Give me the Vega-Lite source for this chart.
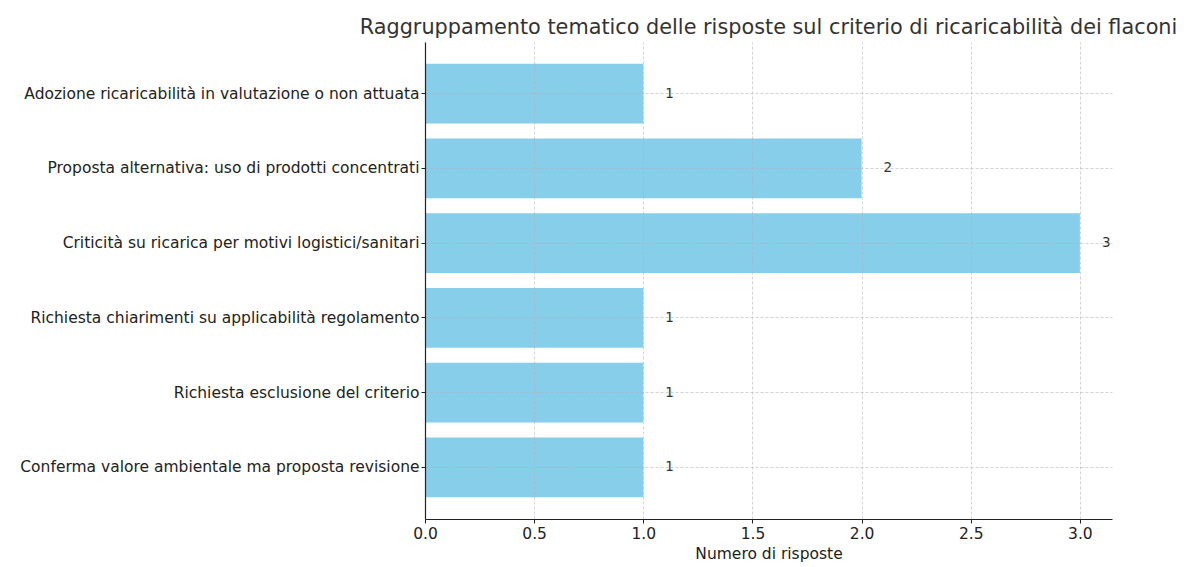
{
  "$schema": "https://vega.github.io/schema/vega-lite/v6.json",
  "autosize": "none",
  "width": 687,
  "height": 477,
  "padding": {"left": 425, "top": 42, "right": 72, "bottom": 48},
  "background": "white",
  "config": {
    "font": "DejaVu Sans",
    "view": {"stroke": null}
  },
  "title": {
    "text": "Raggruppamento tematico delle risposte sul criterio di ricaricabilità dei flaconi",
    "anchor": "middle",
    "frame": "group",
    "fontSize": 20.8,
    "fontWeight": "normal",
    "color": "#333333",
    "font": "DejaVu Sans",
    "offset": 3
  },
  "data": {
    "values": [
      {"categoria": "Adozione ricaricabilità in valutazione o non attuata", "risposte": 1},
      {"categoria": "Proposta alternativa: uso di prodotti concentrati", "risposte": 2},
      {"categoria": "Criticità su ricarica per motivi logistici/sanitari", "risposte": 3},
      {"categoria": "Richiesta chiarimenti su applicabilità regolamento", "risposte": 1},
      {"categoria": "Richiesta esclusione del criterio", "risposte": 1},
      {"categoria": "Conferma valore ambientale ma proposta revisione", "risposte": 1}
    ]
  },
  "encoding": {
    "y": {
      "field": "categoria",
      "type": "nominal",
      "sort": null,
      "scale": {"paddingInner": 0.2, "paddingOuter": 0.29},
      "axis": {
        "title": null,
        "labelFontSize": 15.5,
        "labelColor": "#222222",
        "labelPadding": 2,
        "labelLimit": 500,
        "tickColor": "#222222",
        "tickSize": 4,
        "domainColor": "#222222",
        "domainWidth": 1.2,
        "grid": true,
        "gridColor": "#b0b0b0",
        "gridOpacity": 0.7,
        "gridDash": [3, 2],
        "gridWidth": 0.8,
        "zindex": 1
      }
    },
    "x": {
      "field": "risposte",
      "type": "quantitative",
      "scale": {"domain": [0, 3.147], "nice": false, "zero": true},
      "axis": {
        "title": "Numero di risposte",
        "titleFontSize": 15.5,
        "titleFontWeight": "normal",
        "titleColor": "#222222",
        "titlePadding": 5,
        "values": [0, 0.5, 1, 1.5, 2, 2.5, 3],
        "format": ".1f",
        "labelFontSize": 15.5,
        "labelFlush": false,
        "labelColor": "#222222",
        "labelPadding": 3,
        "tickColor": "#222222",
        "tickSize": 4,
        "domainColor": "#222222",
        "domainWidth": 1.2,
        "grid": true,
        "gridColor": "#b0b0b0",
        "gridOpacity": 0.7,
        "gridDash": [3, 2],
        "gridWidth": 0.8,
        "zindex": 1
      }
    }
  },
  "layer": [
    {"mark": {"type": "bar", "color": "#87CEEB"}},
    {
      "mark": {"type": "text", "align": "left", "baseline": "middle", "dx": 22, "fontSize": 13.5, "color": "#333333"},
      "encoding": {"text": {"field": "risposte", "type": "quantitative"}}
    }
  ]
}
